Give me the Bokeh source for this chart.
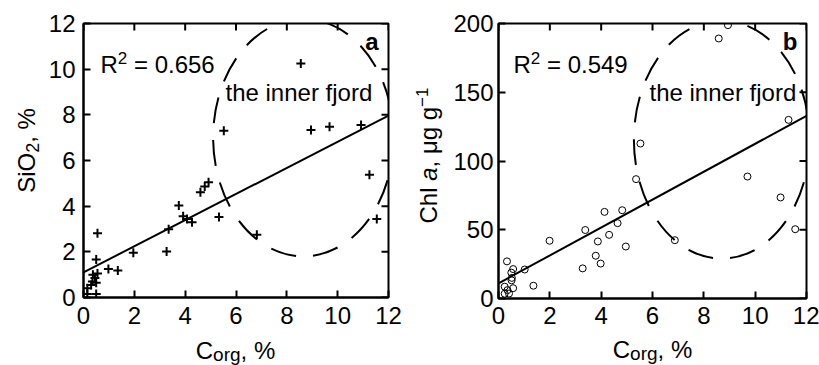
import math
from bokeh.plotting import figure
from bokeh.models import Label, FixedTicker, Range1d
from bokeh.layouts import row, column
from bokeh.embed import file_html
from bokeh.resources import INLINE

# ---------------- data ----------------
x_ticks = [0, 2, 4, 6, 8, 10, 12]
ya_ticks = [0, 2, 4, 6, 8, 10, 12]
yb_ticks = [0, 50, 100, 150, 200]

corg_a = [8.55, 5.52, 8.95, 9.68, 10.92, 11.25, 11.54, 6.82, 5.33, 4.92,
          4.77, 4.60, 3.75, 3.92, 4.07, 4.27, 3.35, 3.27, 1.96,
          0.55, 0.50, 0.98, 1.35, 0.37, 0.55, 0.45, 0.35, 0.50, 0.15,
          0.15, 0.30, 0.50]
sio2 = [10.25, 7.30, 7.34, 7.48, 7.56, 5.38, 3.44, 2.75, 3.53, 5.05,
        4.86, 4.61, 4.03, 3.56, 3.44, 3.30, 2.99, 2.01, 1.96,
        2.81, 1.66, 1.25, 1.18, 1.00, 1.05, 0.85, 0.70, 0.65, 0.40,
        0.15, 0.55, 0.15]

corg_b = [8.94, 8.58, 5.53, 5.36, 11.30, 9.70, 10.99, 11.56, 6.87, 4.13,
          4.82, 4.64, 4.31, 4.96, 3.38, 3.87, 3.79, 3.98, 3.28, 1.99,
          1.36, 1.02, 0.33, 0.57, 0.50, 0.51, 0.24, 0.57, 0.24, 0.41,
          0.35, 0.52]
chla = [198.8, 189.1, 112.7, 86.8, 129.9, 88.7, 73.5, 50.4, 42.4, 63.0,
        64.2, 54.8, 46.3, 37.8, 49.8, 41.5, 31.1, 25.4, 21.9, 42.0,
        9.3, 21.1, 27.0, 21.4, 18.8, 13.2, 8.6, 7.5, 3.5, 3.6,
        6.1, 15.0]

fit_a = (1.10, 0.572)   # intercept, slope
fit_b = (11.0, 10.15)
r2_a = "0.656"
r2_b = "0.549"
fjord_a = (8.65, 7.0, 7.1, 10.4)     # centre x, centre y, width, height
fjord_b = (8.7, 115.5, 6.85, 173.0)
fjord_text = "the inner fjord"

FONT = "Liberation Sans"
FS = 24
BASE_FIX = 0.28   # baseline correction, fraction of font size

W = {'C': 0.722, 'o': 0.556, 'r': 0.333, 'g': 0.556, ',': 0.278, ' ': 0.278,
     '%': 0.889, 'S': 0.667, 'i': 0.222, 'O': 0.778, '2': 0.556, 'h': 0.556,
     'l': 0.222, 'a': 0.556, 'μ': 0.576, '−': 0.584, '1': 0.556, 'R': 0.722,
     '=': 0.584, '.': 0.278}


def tw(s, size):
    return sum(W.get(c, 0.556) for c in s) * size


def rich(p, pieces, x0, y0, vertical=False, center=False):
    total = sum(tw(t, s) for t, s, _, _ in pieces)
    pos = (y0 if vertical else x0)
    if center:
        pos -= total / 2
    for t, s, shift, style in pieces:
        lead = len(t) - len(t.lstrip(" "))
        p0 = pos + lead * W[" "] * s
        up = shift + BASE_FIX * s
        if vertical:
            lab = Label(x=x0 - up, y=p0, angle=math.pi / 2)
        else:
            lab = Label(x=p0, y=y0 + up)
        lab.update(x_units="screen", y_units="screen", text=t.strip(" "),
                   text_font=FONT, text_font_size=f"{s}px",
                   text_font_style=style, text_color="black",
                   text_align="left", text_baseline="alphabetic")
        p.add_layout(lab)
        pos += tw(t, s)


def style(p, xt, yt, xstand, ystand):
    p.xgrid.visible = False
    p.ygrid.visible = False
    p.outline_line_color = "black"
    p.outline_line_width = 2
    p.xaxis.ticker = FixedTicker(ticks=xt)
    p.yaxis.ticker = FixedTicker(ticks=yt)
    for ax in p.axis:
        ax.major_tick_in = 7
        ax.major_tick_out = 0
        ax.minor_tick_line_color = None
        ax.axis_line_width = 2
        ax.major_tick_line_width = 2
        ax.major_label_text_font = FONT
        ax.major_label_text_font_size = f"{FS}px"
        ax.major_label_text_color = "black"
    p.xaxis.major_label_standoff = xstand
    p.yaxis.major_label_standoff = ystand
    # inward ticks on the top and right frame edges
    p.ray(x=xt, y=[yt[-1]] * len(xt), length=7, length_units="screen",
          angle=-math.pi / 2, line_width=2, line_color="black")
    p.ray(x=[xt[-1]] * len(yt), y=yt, length=7, length_units="screen",
          angle=math.pi, line_width=2, line_color="black")


def ellipse(p, e):
    p.ellipse(x=[e[0]], y=[e[1]], width=[e[2]], height=[e[3]],
              fill_color=None, line_color="black", line_width=2,
              line_dash="26 17")


def fit_line(p, f):
    xs = [x_ticks[0], x_ticks[-1]]
    p.line(x=xs, y=[f[0] + f[1] * v for v in xs], line_color="black", line_width=2)


def label_fig(w, h):
    f = figure(width=w, height=h, x_range=Range1d(0, 1), y_range=Range1d(0, 1),
               x_axis_type=None, y_axis_type=None, output_backend="svg",
               toolbar_location=None, min_border=0)
    f.outline_line_color = None
    return f


def panel_letter(p, letter, x, y):
    p.add_layout(Label(x=x, y=y + BASE_FIX * FS, x_units="screen", y_units="screen",
                       text=letter, text_font=FONT, text_font_size=f"{FS}px",
                       text_font_style="bold", text_color="black",
                       text_align="right", text_baseline="alphabetic"))


H = 334       # height of the plot rows
XH = 365 - H  # height of the x-label strips
# note: inside a row the label strips' frames line up with the plot frames
# (panel a frame bottom at 297 px, panel b frame bottom at 298 px)

# ---------------- panel a ----------------
pa = figure(width=366, height=H, x_range=Range1d(0, 12), y_range=Range1d(0, 12),
            output_backend="svg", toolbar_location=None,
            min_border_left=39, min_border_right=22, min_border_top=23,
            min_border_bottom=37)
style(pa, x_ticks, ya_ticks, 9, 8)
ellipse(pa, fjord_a)
fit_line(pa, fit_a)
pa.scatter(corg_a, sio2, marker="cross", size=9, line_width=2, line_color="black")
rich(pa, [("R", FS, 0, "normal"), ("2", 17, 9, "normal"), (" = " + r2_a, FS, 0, "normal")], 17, 226)
rich(pa, [(fjord_text, FS, 0, "normal")], 142, 198)
panel_letter(pa, "a", 295, 249)

yla = label_fig(44, H)
rich(yla, [("SiO", FS, 0, "normal"), ("2", 18, -4, "normal"), (", %", FS, 0, "normal")],
     33, 297 - 150, vertical=True, center=True)
xla = label_fig(410, XH)
rich(xla, [("C", FS, 0, "normal"), ("org", 19, -2, "normal"), (", %", FS, 0, "normal")],
     235, 8, center=True)

# ---------------- panel b ----------------
pb = figure(width=369, height=H, x_range=Range1d(0, 12), y_range=Range1d(0, 200),
            output_backend="svg", toolbar_location=None,
            min_border_left=46, min_border_right=13, min_border_top=23,
            min_border_bottom=36)
style(pb, x_ticks, yb_ticks, 8, 5)
ellipse(pb, fjord_b)
fit_line(pb, fit_b)
pb.scatter(corg_b, chla, marker="circle", size=7, line_width=1,
           line_color="black", fill_color=None)
rich(pb, [("R", FS, 0, "normal"), ("2", 17, 9, "normal"), (" = " + r2_b, FS, 0, "normal")], 15, 227)
rich(pb, [(fjord_text, FS, 0, "normal")], 151, 199)
panel_letter(pb, "b", 299, 250)

ylb = label_fig(40, H)
rich(ylb, [("Chl ", FS, 0, "normal"), ("a", FS, 0, "italic"), (", μg g", FS, 0, "normal"),
           ("−1", 17, 9, "normal")], 25, 298 - 155, vertical=True, center=True)
xlb = label_fig(409, XH)
rich(xlb, [("C", FS, 0, "normal"), ("org", 19, -2, "normal"), (", %", FS, 0, "normal")],
     242, 9, center=True)

layout = row(column(row(yla, pa), xla), column(row(ylb, pb), xlb))
open("out.html", "w").write(file_html(layout, INLINE))
